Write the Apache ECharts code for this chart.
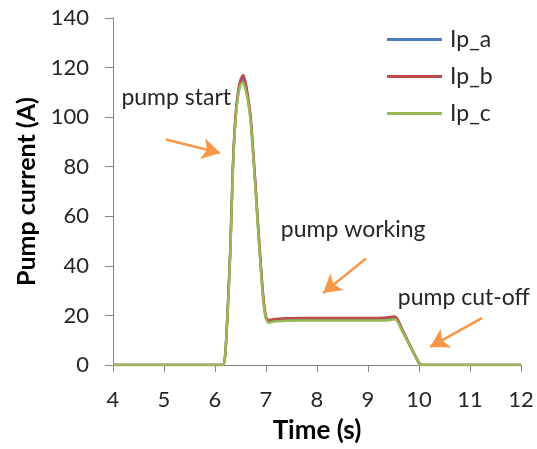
<!DOCTYPE html>
<html>
<head>
<meta charset="utf-8">
<script src="https://cdn.jsdelivr.net/npm/echarts@6/dist/echarts.min.js"></script>
<style>
  html, body { margin: 0; padding: 0; background: #fff; }
  #chart { width: 537px; height: 449px; }
</style>
</head>
<body>
<div id="chart"></div>
<script>
// Sample times (s)
const timeS = [4, 6.15, 6.2, 6.25, 6.3, 6.35, 6.4, 6.45, 6.5, 6.55, 6.6, 6.65, 6.7, 6.75, 6.8, 6.85, 6.9, 6.95, 7.0, 7.05, 7.1, 7.2, 7.4, 7.7, 8.0, 8.5, 9.0, 9.3, 9.45, 9.52, 9.58, 9.65, 9.7, 9.8, 9.9, 10.0, 10.05, 12];

// Phase currents (A)
const ipA = [0, 0, 4, 22.5, 46, 79, 99, 109, 114, 115.5, 112.5, 107, 99, 85, 70, 54, 39, 26, 19, 17.5, 17.8, 18.1, 18.4, 18.5, 18.5, 18.5, 18.5, 18.6, 18.8, 19, 18, 14.9, 12.8, 8.7, 4.6, 0.8, 0, 0];
const ipB = [0, 0, 4, 23, 47, 80, 100, 110, 115, 117, 114, 108, 100, 86, 71, 55, 40, 27, 19.5, 18, 18.3, 18.6, 18.9, 19, 19, 19, 19, 19.1, 19.4, 19.6, 18.5, 15.3, 13.2, 9, 4.8, 0.9, 0, 0];
const ipC = [0, 0, 4, 22, 45, 78, 98, 108, 113, 114, 111, 106, 98, 84, 69, 53, 38, 25, 18.5, 17, 17.3, 17.6, 17.9, 18, 18, 18, 18, 18, 18.2, 18.5, 17.5, 14.5, 12.5, 8.5, 4.5, 0.8, 0, 0];

const seriesNames = ['Ip_a', 'Ip_b', 'Ip_c'];
const seriesColors = ['#4A7EBB', '#BE4B48', '#98B954'];

// Annotation arrows: [from, to] in data space (time, current)
const arrows = [
  [[5.04, 91], [6.1, 85.5]],
  [[8.96, 43], [8.12, 29]],
  [[11.24, 19], [10.22, 7.3]]
];
// Captions, anchored at their centre in data space
const notes = [
  { text: 'pump start', at: [5.24, 108] },
  { text: 'pump working', at: [8.71, 54.5] },
  { text: 'pump cut-off', at: [10.88, 27.4] }
];

const FONT = 'Lato, "Open Sans", sans-serif';
const zip = (xs, ys) => xs.map((x, i) => [x, ys[i]]);
const values = [ipA, ipB, ipC];

const series = seriesNames.map((name, i) => ({
  name,
  type: 'line',
  data: zip(timeS, values[i]),
  symbol: 'none',
  smooth: 0.2,
  lineStyle: { width: 2.5, color: seriesColors[i] },
  itemStyle: { color: seriesColors[i] },
  z: 2 + i
}));

// Arrows
series.push({
  type: 'line',
  data: [],
  silent: true,
  z: 10,
  markLine: {
    silent: true,
    symbol: ['none', 'arrow'],
    symbolSize: [16, 18],
    lineStyle: { color: '#F79646', width: 2.5, type: 'solid' },
    label: { show: false },
    animation: false,
    data: arrows.map(([a, b]) => [{ coord: a }, { coord: b }])
  }
});

const chart = echarts.init(document.getElementById('chart'));
chart.setOption({
  animation: false,
  backgroundColor: '#fff',
  grid: { left: 113, right: 16, top: 18, bottom: 84 },
  legend: {
    orient: 'vertical',
    left: 382,
    top: 21,
    icon: 'rect',
    itemWidth: 55,
    itemHeight: 3,
    itemGap: 10,
    data: seriesNames,
    textStyle: { fontFamily: FONT, fontSize: 23, color: '#262626', padding: [0, 0, 0, 3], lineHeight: 27 }
  },
  xAxis: {
    type: 'value',
    min: 4,
    max: 12,
    interval: 1,
    name: 'Time (s)',
    nameLocation: 'middle',
    nameGap: 53,
    nameTextStyle: { fontFamily: FONT, fontSize: 26, fontWeight: 'bold', color: '#000' },
    axisLine: { show: true, lineStyle: { color: '#868686', width: 1 } },
    axisTick: { show: true, length: 7, lineStyle: { color: '#868686' } },
    axisLabel: { fontFamily: FONT, fontSize: 22, color: '#262626', margin: 24 },
    splitLine: { show: false }
  },
  yAxis: {
    type: 'value',
    min: 0,
    max: 140,
    interval: 20,
    name: 'Pump current (A)',
    nameLocation: 'middle',
    nameGap: 73,
    nameTextStyle: { fontFamily: FONT, fontSize: 25, fontWeight: 'bold', color: '#000' },
    axisLine: { show: true, lineStyle: { color: '#868686', width: 1 } },
    axisTick: { show: true, length: 8, lineStyle: { color: '#868686' } },
    axisLabel: { fontFamily: FONT, fontSize: 22, color: '#262626', margin: 24 },
    splitLine: { show: false }
  },
  series
});

// Captions placed through the axes' own scales
chart.setOption({
  graphic: notes.map(n => {
    const [px, py] = chart.convertToPixel({ gridIndex: 0 }, n.at);
    return {
      type: 'text',
      x: px,
      y: py,
      z: 20,
      style: {
        text: n.text,
        fill: '#262626',
        font: '23px ' + FONT,
        align: 'center',
        verticalAlign: 'middle'
      }
    };
  })
});
</script>
</body>
</html>
